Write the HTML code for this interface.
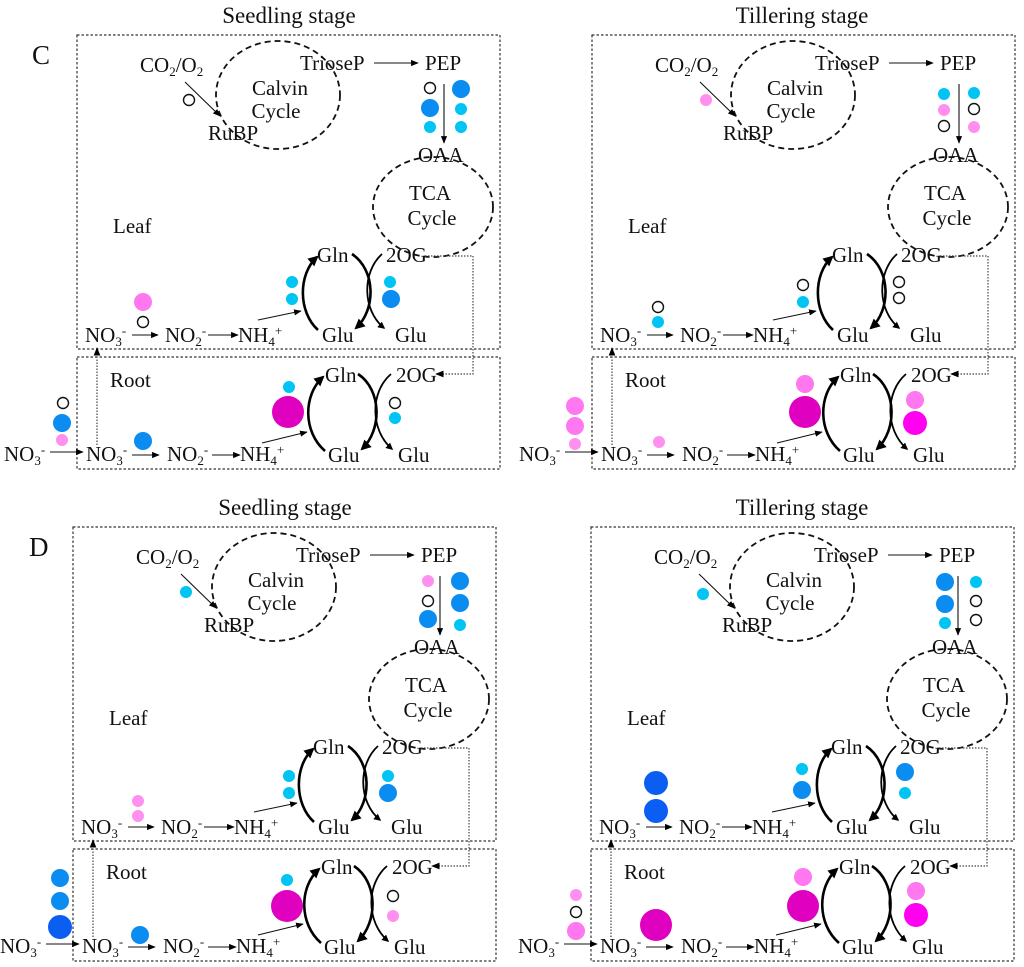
<!DOCTYPE html>
<html><head><meta charset="utf-8"><style>
html,body{margin:0;padding:0;background:#fff;}
svg{display:block;font-family:"Liberation Serif",serif;}
text{font-size:21px;fill:#111;}
.t{font-size:23px;}
.sb{font-size:13px;}
.box{fill:none;stroke:#333;stroke-width:1.2;stroke-dasharray:2.5 2;}
.el{fill:none;stroke:#111;stroke-width:1.8;stroke-dasharray:6 4;}
.ln{stroke:#111;stroke-width:1.1;fill:none;}
.dt{stroke:#444;stroke-width:1.2;fill:none;stroke-dasharray:1.5 1.5;}
.th{stroke:#000;stroke-width:2.6;fill:none;}
.tn{stroke:#000;stroke-width:1.8;fill:none;}
.o{fill:#fff;stroke:#111;stroke-width:1.4;}
.c{fill:#00c4f4;}.b{fill:#0a8cf0;}.db{fill:#0a5ef2;}.p{fill:#ff78f0;}.lp{fill:#ff90f0;}.m{fill:#e000c0;}.bm{fill:#ff00f0;}
</style></head><body>
<svg width="1024" height="967" viewBox="0 0 1024 967" xmlns="http://www.w3.org/2000/svg">
<defs>
<marker id="a" viewBox="0 0 10 10" refX="9" refY="5" markerWidth="7" markerHeight="7" orient="auto-start-reverse"><path d="M0,1 L10,5 L0,9 z" fill="#000"/></marker>
<marker id="ab" viewBox="0 0 10 10" refX="8" refY="5" markerWidth="4" markerHeight="4" orient="auto"><path d="M0,0 L10,5 L0,10 z" fill="#000"/></marker>
</defs>
<text class="t" x="289" y="23" text-anchor="middle">Seedling stage</text>
<text class="t" x="802" y="23" text-anchor="middle">Tillering stage</text>
<text class="t" x="285" y="515" text-anchor="middle">Seedling stage</text>
<text class="t" x="802" y="515" text-anchor="middle">Tillering stage</text>
<text x="32" y="64" style="font-size:27px">C</text>
<text x="29" y="556" style="font-size:27px">D</text>

<!-- PANEL C-left -->
<g transform="translate(0,0)">
<rect class="box" x="77" y="35" width="423" height="314"/>
<rect class="box" x="77" y="357" width="423" height="112"/>
<ellipse class="el" cx="278" cy="95" rx="62" ry="54"/>
<ellipse class="el" cx="433" cy="207" rx="60" ry="50"/>
<text x="140" y="72">CO<tspan class="sb" dy="4">2</tspan><tspan dy="-4">/O</tspan><tspan class="sb" dy="4">2</tspan></text>
<text x="280" y="95" text-anchor="middle">Calvin</text><text x="276" y="118" text-anchor="middle">Cycle</text>
<text x="208" y="140">RuBP</text><text x="300" y="70">TrioseP</text><text x="425" y="70">PEP</text>
<text x="418" y="162">OAA</text>
<text x="430" y="200" text-anchor="middle">TCA</text><text x="432" y="225" text-anchor="middle">Cycle</text>
<text x="113" y="233">Leaf</text>
<text x="317" y="262">Gln</text><text x="386" y="262">2OG</text>
<text x="85" y="342">NO<tspan class="sb" dy="4">3</tspan><tspan class="sb" dy="-11">-</tspan></text>
<text x="165" y="342">NO<tspan class="sb" dy="4">2</tspan><tspan class="sb" dy="-11">-</tspan></text>
<text x="238" y="342">NH<tspan class="sb" dy="4">4</tspan><tspan class="sb" dy="-11">+</tspan></text>
<text x="322" y="342">Glu</text><text x="395" y="342">Glu</text>
<text x="110" y="387">Root</text>
<text x="325" y="382">Gln</text><text x="396" y="382">2OG</text>
<text x="4" y="461">NO<tspan class="sb" dy="4">3</tspan><tspan class="sb" dy="-11">-</tspan></text>
<text x="86" y="461">NO<tspan class="sb" dy="4">3</tspan><tspan class="sb" dy="-11">-</tspan></text>
<text x="167" y="461">NO<tspan class="sb" dy="4">2</tspan><tspan class="sb" dy="-11">-</tspan></text>
<text x="240" y="461">NH<tspan class="sb" dy="4">4</tspan><tspan class="sb" dy="-11">+</tspan></text>
<text x="328" y="462">Glu</text><text x="398" y="462">Glu</text>
<line class="ln" x1="185" y1="82" x2="220" y2="116" marker-end="url(#a)"/>
<line class="ln" x1="374" y1="63" x2="418" y2="63" marker-end="url(#a)"/>
<line class="ln" x1="444" y1="84" x2="444" y2="143" marker-end="url(#a)"/>
<line class="ln" x1="132" y1="335" x2="158" y2="335" marker-end="url(#a)"/>
<line class="ln" x1="208" y1="335" x2="238" y2="335" marker-end="url(#a)"/>
<line class="ln" x1="258" y1="320" x2="301" y2="311" marker-end="url(#a)"/>
<line class="ln" x1="50" y1="452" x2="83" y2="452" marker-end="url(#a)"/>
<line class="ln" x1="132" y1="455" x2="159" y2="455" marker-end="url(#a)"/>
<line class="ln" x1="212" y1="455" x2="240" y2="455" marker-end="url(#a)"/>
<line class="ln" x1="262" y1="443" x2="307" y2="432" marker-end="url(#a)"/>
<line class="dt" x1="97" y1="445" x2="97" y2="348" marker-end="url(#a)"/>
<path class="dt" d="M425 256 H473 V374 H436" marker-end="url(#a)"/>
<path class="th" d="M318 330 C298 312 298 274 317 257" marker-end="url(#ab)"/>
<path class="th" d="M352 254 C376 270 376 310 356 328" marker-end="url(#ab)"/>
<path class="tn" d="M382 254 C362 272 362 310 384 328" marker-end="url(#ab)"/>
<path class="th" d="M325 451 C303 432 303 395 323 377" marker-end="url(#ab)"/>
<path class="th" d="M358 374 C382 390 382 430 362 449" marker-end="url(#ab)"/>
<path class="tn" d="M391 374 C370 392 370 430 392 449" marker-end="url(#ab)"/>
<circle class="o" cx="189" cy="100" r="5.5"/>
<circle class="o" cx="430" cy="88" r="5.5"/><circle class="b" cx="430" cy="108" r="9"/><circle class="c" cx="430" cy="127" r="6"/>
<circle class="b" cx="461" cy="89" r="9"/><circle class="c" cx="461" cy="109" r="6"/><circle class="c" cx="461" cy="127" r="6"/>
<circle class="p" cx="143" cy="302" r="9"/><circle class="o" cx="143" cy="322" r="5.5"/>
<circle class="c" cx="292" cy="282" r="6"/><circle class="c" cx="292" cy="299" r="6"/>
<circle class="c" cx="390" cy="282" r="6"/><circle class="b" cx="391" cy="299" r="9"/>
<circle class="c" cx="289" cy="387" r="6"/><circle class="m" cx="288" cy="412" r="16"/>
<circle class="o" cx="395" cy="403" r="5.5"/><circle class="c" cx="395" cy="418" r="6"/>
<circle class="o" cx="63" cy="403" r="5.5"/><circle class="b" cx="62" cy="423" r="9"/><circle class="lp" cx="62" cy="440" r="6"/>
<circle class="b" cx="143" cy="441" r="9"/>
</g>

<!-- PANEL C-right -->
<g transform="translate(515,0)">
<rect class="box" x="77" y="35" width="423" height="314"/>
<rect class="box" x="77" y="357" width="423" height="112"/>
<ellipse class="el" cx="278" cy="95" rx="62" ry="54"/>
<ellipse class="el" cx="433" cy="207" rx="60" ry="50"/>
<text x="140" y="72">CO<tspan class="sb" dy="4">2</tspan><tspan dy="-4">/O</tspan><tspan class="sb" dy="4">2</tspan></text>
<text x="280" y="95" text-anchor="middle">Calvin</text><text x="276" y="118" text-anchor="middle">Cycle</text>
<text x="208" y="140">RuBP</text><text x="300" y="70">TrioseP</text><text x="425" y="70">PEP</text>
<text x="418" y="162">OAA</text>
<text x="430" y="200" text-anchor="middle">TCA</text><text x="432" y="225" text-anchor="middle">Cycle</text>
<text x="113" y="233">Leaf</text>
<text x="317" y="262">Gln</text><text x="386" y="262">2OG</text>
<text x="85" y="342">NO<tspan class="sb" dy="4">3</tspan><tspan class="sb" dy="-11">-</tspan></text>
<text x="165" y="342">NO<tspan class="sb" dy="4">2</tspan><tspan class="sb" dy="-11">-</tspan></text>
<text x="238" y="342">NH<tspan class="sb" dy="4">4</tspan><tspan class="sb" dy="-11">+</tspan></text>
<text x="322" y="342">Glu</text><text x="395" y="342">Glu</text>
<text x="110" y="387">Root</text>
<text x="325" y="382">Gln</text><text x="396" y="382">2OG</text>
<text x="4" y="461">NO<tspan class="sb" dy="4">3</tspan><tspan class="sb" dy="-11">-</tspan></text>
<text x="86" y="461">NO<tspan class="sb" dy="4">3</tspan><tspan class="sb" dy="-11">-</tspan></text>
<text x="167" y="461">NO<tspan class="sb" dy="4">2</tspan><tspan class="sb" dy="-11">-</tspan></text>
<text x="240" y="461">NH<tspan class="sb" dy="4">4</tspan><tspan class="sb" dy="-11">+</tspan></text>
<text x="328" y="462">Glu</text><text x="398" y="462">Glu</text>
<line class="ln" x1="185" y1="82" x2="220" y2="116" marker-end="url(#a)"/>
<line class="ln" x1="374" y1="63" x2="418" y2="63" marker-end="url(#a)"/>
<line class="ln" x1="444" y1="84" x2="444" y2="143" marker-end="url(#a)"/>
<line class="ln" x1="132" y1="335" x2="158" y2="335" marker-end="url(#a)"/>
<line class="ln" x1="208" y1="335" x2="238" y2="335" marker-end="url(#a)"/>
<line class="ln" x1="258" y1="320" x2="301" y2="311" marker-end="url(#a)"/>
<line class="ln" x1="50" y1="452" x2="83" y2="452" marker-end="url(#a)"/>
<line class="ln" x1="132" y1="455" x2="159" y2="455" marker-end="url(#a)"/>
<line class="ln" x1="212" y1="455" x2="240" y2="455" marker-end="url(#a)"/>
<line class="ln" x1="262" y1="443" x2="307" y2="432" marker-end="url(#a)"/>
<line class="dt" x1="97" y1="445" x2="97" y2="348" marker-end="url(#a)"/>
<path class="dt" d="M425 256 H473 V374 H436" marker-end="url(#a)"/>
<path class="th" d="M318 330 C298 312 298 274 317 257" marker-end="url(#ab)"/>
<path class="th" d="M352 254 C376 270 376 310 356 328" marker-end="url(#ab)"/>
<path class="tn" d="M382 254 C362 272 362 310 384 328" marker-end="url(#ab)"/>
<path class="th" d="M325 451 C303 432 303 395 323 377" marker-end="url(#ab)"/>
<path class="th" d="M358 374 C382 390 382 430 362 449" marker-end="url(#ab)"/>
<path class="tn" d="M391 374 C370 392 370 430 392 449" marker-end="url(#ab)"/>
<circle class="lp" cx="191" cy="100" r="6"/>
<circle class="c" cx="429" cy="94" r="6"/><circle class="lp" cx="429" cy="110" r="6"/><circle class="o" cx="429" cy="126" r="5.5"/>
<circle class="c" cx="459" cy="93" r="6"/><circle class="o" cx="459" cy="109" r="5.5"/><circle class="lp" cx="459" cy="127" r="6"/>
<circle class="o" cx="143" cy="307" r="5.5"/><circle class="c" cx="143" cy="322" r="6"/>
<circle class="o" cx="288" cy="285" r="5.5"/><circle class="c" cx="288" cy="302" r="6"/>
<circle class="o" cx="384" cy="282" r="5.5"/><circle class="o" cx="384" cy="298" r="5.5"/>
<circle class="p" cx="290" cy="384" r="9"/><circle class="m" cx="290" cy="412" r="16"/>
<circle class="p" cx="400" cy="400" r="9"/><circle class="bm" cx="400" cy="423" r="12"/>
<circle class="p" cx="60" cy="406" r="9"/><circle class="p" cx="60" cy="426" r="9"/><circle class="lp" cx="60" cy="444" r="6"/>
<circle class="lp" cx="144" cy="442" r="6"/>
</g>

<!-- PANEL D-left -->
<g transform="translate(-4,492)">
<rect class="box" x="77" y="35" width="423" height="314"/>
<rect class="box" x="77" y="357" width="423" height="112"/>
<ellipse class="el" cx="278" cy="95" rx="62" ry="54"/>
<ellipse class="el" cx="433" cy="207" rx="60" ry="50"/>
<text x="140" y="72">CO<tspan class="sb" dy="4">2</tspan><tspan dy="-4">/O</tspan><tspan class="sb" dy="4">2</tspan></text>
<text x="280" y="95" text-anchor="middle">Calvin</text><text x="276" y="118" text-anchor="middle">Cycle</text>
<text x="208" y="140">RuBP</text><text x="300" y="70">TrioseP</text><text x="425" y="70">PEP</text>
<text x="418" y="162">OAA</text>
<text x="430" y="200" text-anchor="middle">TCA</text><text x="432" y="225" text-anchor="middle">Cycle</text>
<text x="113" y="233">Leaf</text>
<text x="317" y="262">Gln</text><text x="386" y="262">2OG</text>
<text x="85" y="342">NO<tspan class="sb" dy="4">3</tspan><tspan class="sb" dy="-11">-</tspan></text>
<text x="165" y="342">NO<tspan class="sb" dy="4">2</tspan><tspan class="sb" dy="-11">-</tspan></text>
<text x="238" y="342">NH<tspan class="sb" dy="4">4</tspan><tspan class="sb" dy="-11">+</tspan></text>
<text x="322" y="342">Glu</text><text x="395" y="342">Glu</text>
<text x="110" y="387">Root</text>
<text x="325" y="382">Gln</text><text x="396" y="382">2OG</text>
<text x="4" y="461">NO<tspan class="sb" dy="4">3</tspan><tspan class="sb" dy="-11">-</tspan></text>
<text x="86" y="461">NO<tspan class="sb" dy="4">3</tspan><tspan class="sb" dy="-11">-</tspan></text>
<text x="167" y="461">NO<tspan class="sb" dy="4">2</tspan><tspan class="sb" dy="-11">-</tspan></text>
<text x="240" y="461">NH<tspan class="sb" dy="4">4</tspan><tspan class="sb" dy="-11">+</tspan></text>
<text x="328" y="462">Glu</text><text x="398" y="462">Glu</text>
<line class="ln" x1="185" y1="82" x2="220" y2="116" marker-end="url(#a)"/>
<line class="ln" x1="374" y1="63" x2="418" y2="63" marker-end="url(#a)"/>
<line class="ln" x1="444" y1="84" x2="444" y2="143" marker-end="url(#a)"/>
<line class="ln" x1="132" y1="335" x2="158" y2="335" marker-end="url(#a)"/>
<line class="ln" x1="208" y1="335" x2="238" y2="335" marker-end="url(#a)"/>
<line class="ln" x1="258" y1="320" x2="301" y2="311" marker-end="url(#a)"/>
<line class="ln" x1="50" y1="452" x2="83" y2="452" marker-end="url(#a)"/>
<line class="ln" x1="132" y1="455" x2="159" y2="455" marker-end="url(#a)"/>
<line class="ln" x1="212" y1="455" x2="240" y2="455" marker-end="url(#a)"/>
<line class="ln" x1="262" y1="443" x2="307" y2="432" marker-end="url(#a)"/>
<line class="dt" x1="97" y1="445" x2="97" y2="348" marker-end="url(#a)"/>
<path class="dt" d="M425 256 H473 V374 H436" marker-end="url(#a)"/>
<path class="th" d="M318 330 C298 312 298 274 317 257" marker-end="url(#ab)"/>
<path class="th" d="M352 254 C376 270 376 310 356 328" marker-end="url(#ab)"/>
<path class="tn" d="M382 254 C362 272 362 310 384 328" marker-end="url(#ab)"/>
<path class="th" d="M325 451 C303 432 303 395 323 377" marker-end="url(#ab)"/>
<path class="th" d="M358 374 C382 390 382 430 362 449" marker-end="url(#ab)"/>
<path class="tn" d="M391 374 C370 392 370 430 392 449" marker-end="url(#ab)"/>
<circle class="c" cx="190" cy="100" r="6"/>
<circle class="lp" cx="432" cy="89" r="6"/><circle class="o" cx="432" cy="109" r="5.5"/><circle class="b" cx="432" cy="127" r="9"/>
<circle class="b" cx="464" cy="89" r="9"/><circle class="b" cx="464" cy="111" r="9"/><circle class="c" cx="464" cy="133" r="6"/>
<circle class="lp" cx="142" cy="309" r="6"/><circle class="lp" cx="142" cy="324" r="6"/>
<circle class="c" cx="293" cy="284" r="6"/><circle class="c" cx="293" cy="301" r="6"/>
<circle class="c" cx="392" cy="284" r="6"/><circle class="b" cx="392" cy="301" r="9"/>
<circle class="c" cx="291" cy="388" r="6"/><circle class="m" cx="291" cy="414" r="16"/>
<circle class="o" cx="397" cy="404" r="5.5"/><circle class="lp" cx="397" cy="424" r="6"/>
<circle class="b" cx="64" cy="386" r="9"/><circle class="b" cx="64" cy="409" r="9"/><circle class="db" cx="64" cy="435" r="12"/>
<circle class="b" cx="144" cy="443" r="9"/>
</g>

<!-- PANEL D-right -->
<g transform="translate(514,492)">
<rect class="box" x="77" y="35" width="423" height="314"/>
<rect class="box" x="77" y="357" width="423" height="112"/>
<ellipse class="el" cx="278" cy="95" rx="62" ry="54"/>
<ellipse class="el" cx="433" cy="207" rx="60" ry="50"/>
<text x="140" y="72">CO<tspan class="sb" dy="4">2</tspan><tspan dy="-4">/O</tspan><tspan class="sb" dy="4">2</tspan></text>
<text x="280" y="95" text-anchor="middle">Calvin</text><text x="276" y="118" text-anchor="middle">Cycle</text>
<text x="208" y="140">RuBP</text><text x="300" y="70">TrioseP</text><text x="425" y="70">PEP</text>
<text x="418" y="162">OAA</text>
<text x="430" y="200" text-anchor="middle">TCA</text><text x="432" y="225" text-anchor="middle">Cycle</text>
<text x="113" y="233">Leaf</text>
<text x="317" y="262">Gln</text><text x="386" y="262">2OG</text>
<text x="85" y="342">NO<tspan class="sb" dy="4">3</tspan><tspan class="sb" dy="-11">-</tspan></text>
<text x="165" y="342">NO<tspan class="sb" dy="4">2</tspan><tspan class="sb" dy="-11">-</tspan></text>
<text x="238" y="342">NH<tspan class="sb" dy="4">4</tspan><tspan class="sb" dy="-11">+</tspan></text>
<text x="322" y="342">Glu</text><text x="395" y="342">Glu</text>
<text x="110" y="387">Root</text>
<text x="325" y="382">Gln</text><text x="396" y="382">2OG</text>
<text x="4" y="461">NO<tspan class="sb" dy="4">3</tspan><tspan class="sb" dy="-11">-</tspan></text>
<text x="86" y="461">NO<tspan class="sb" dy="4">3</tspan><tspan class="sb" dy="-11">-</tspan></text>
<text x="167" y="461">NO<tspan class="sb" dy="4">2</tspan><tspan class="sb" dy="-11">-</tspan></text>
<text x="240" y="461">NH<tspan class="sb" dy="4">4</tspan><tspan class="sb" dy="-11">+</tspan></text>
<text x="328" y="462">Glu</text><text x="398" y="462">Glu</text>
<line class="ln" x1="185" y1="82" x2="220" y2="116" marker-end="url(#a)"/>
<line class="ln" x1="374" y1="63" x2="418" y2="63" marker-end="url(#a)"/>
<line class="ln" x1="444" y1="84" x2="444" y2="143" marker-end="url(#a)"/>
<line class="ln" x1="132" y1="335" x2="158" y2="335" marker-end="url(#a)"/>
<line class="ln" x1="208" y1="335" x2="238" y2="335" marker-end="url(#a)"/>
<line class="ln" x1="258" y1="320" x2="301" y2="311" marker-end="url(#a)"/>
<line class="ln" x1="50" y1="452" x2="83" y2="452" marker-end="url(#a)"/>
<line class="ln" x1="132" y1="455" x2="159" y2="455" marker-end="url(#a)"/>
<line class="ln" x1="212" y1="455" x2="240" y2="455" marker-end="url(#a)"/>
<line class="ln" x1="262" y1="443" x2="307" y2="432" marker-end="url(#a)"/>
<line class="dt" x1="97" y1="445" x2="97" y2="348" marker-end="url(#a)"/>
<path class="dt" d="M425 256 H473 V374 H436" marker-end="url(#a)"/>
<path class="th" d="M318 330 C298 312 298 274 317 257" marker-end="url(#ab)"/>
<path class="th" d="M352 254 C376 270 376 310 356 328" marker-end="url(#ab)"/>
<path class="tn" d="M382 254 C362 272 362 310 384 328" marker-end="url(#ab)"/>
<path class="th" d="M325 451 C303 432 303 395 323 377" marker-end="url(#ab)"/>
<path class="th" d="M358 374 C382 390 382 430 362 449" marker-end="url(#ab)"/>
<path class="tn" d="M391 374 C370 392 370 430 392 449" marker-end="url(#ab)"/>
<circle class="c" cx="189" cy="102" r="6"/>
<circle class="b" cx="431" cy="90" r="9"/><circle class="b" cx="431" cy="112" r="9"/><circle class="c" cx="431" cy="131" r="6"/>
<circle class="c" cx="462" cy="90" r="6"/><circle class="o" cx="462" cy="109" r="5.5"/><circle class="o" cx="462" cy="128" r="5.5"/>
<circle class="db" cx="142" cy="291" r="12"/><circle class="db" cx="142" cy="319" r="12"/>
<circle class="c" cx="288" cy="277" r="6"/><circle class="b" cx="288" cy="298" r="9"/>
<circle class="b" cx="391" cy="280" r="9"/><circle class="c" cx="391" cy="301" r="6"/>
<circle class="p" cx="289" cy="385" r="9"/><circle class="m" cx="289" cy="414" r="16"/>
<circle class="p" cx="402" cy="399" r="9"/><circle class="bm" cx="402" cy="423" r="12"/>
<circle class="lp" cx="62" cy="403" r="6"/><circle class="o" cx="62" cy="420" r="5.5"/><circle class="p" cx="62" cy="439" r="9"/>
<circle class="m" cx="142" cy="433" r="16"/>
</g>
</svg>
</body></html>
